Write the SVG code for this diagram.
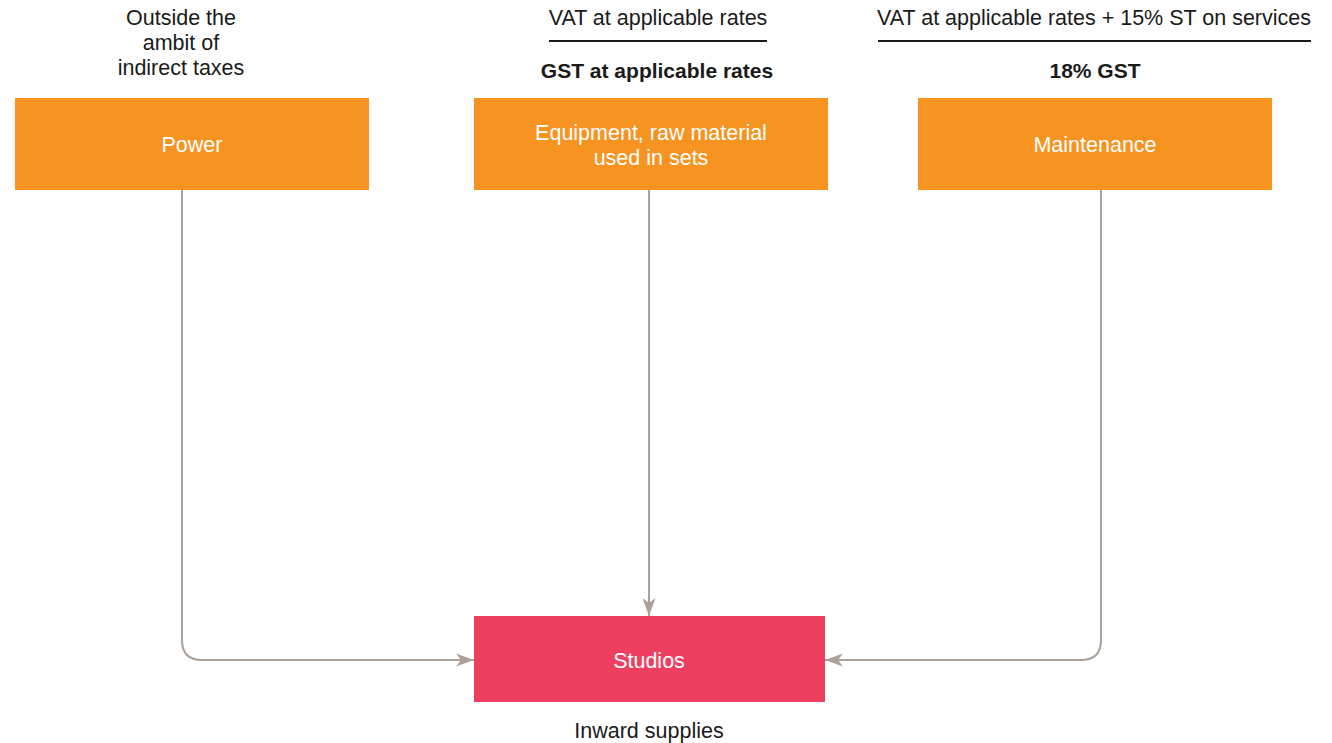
<svg xmlns="http://www.w3.org/2000/svg" width="1332" height="743" viewBox="0 0 1332 743">
<style>
text{font-family:"Liberation Sans",Arial,sans-serif;font-size:21.5px;text-anchor:middle}
.lbl{fill:#1a1a1a}
.b{font-weight:bold;font-size:21px}
.w{fill:#ffffff}
.src{fill:#F79321}
.dst{fill:#EF3F61}
.conn{fill:none;stroke:#ABA198;stroke-width:2}
.rule{stroke:#1a1a1a;stroke-width:2}
</style>
<defs>
<marker id="arr" viewBox="0 0 18 13" refX="18" refY="6.5" markerWidth="18" markerHeight="13" markerUnits="userSpaceOnUse" orient="auto">
<path d="M0,0 L18,6.5 L0,13 L5,6.5 Z" fill="#ABA198"/>
</marker>
</defs>
<g id="labels">
<text class="lbl" x="181" y="25">Outside the</text>
<text class="lbl" x="181" y="50">ambit of</text>
<text class="lbl" x="181" y="75">indirect taxes</text>
<text class="lbl" x="658" y="25">VAT at applicable rates</text>
<line class="rule" x1="549" y1="41" x2="767" y2="41"/>
<text class="lbl b" x="657" y="78">GST at applicable rates</text>
<text class="lbl" x="1094" y="25">VAT at applicable rates + 15% ST on services</text>
<line class="rule" x1="878" y1="41" x2="1311" y2="41"/>
<text class="lbl b" x="1095" y="78">18% GST</text>
<text class="lbl" x="649" y="738">Inward supplies</text>
</g>
<g id="connectors">
<path class="conn" d="M182,190 V640 Q182,660 202,660 H474" marker-end="url(#arr)"/>
<path class="conn" d="M649,190 V616" marker-end="url(#arr)"/>
<path class="conn" d="M1101,190 V640 Q1101,660 1081,660 H825" marker-end="url(#arr)"/>
</g>
<g id="power">
<rect class="src" x="15" y="98" width="354" height="92"/>
<text class="w" x="192" y="152">Power</text>
</g>
<g id="equipment">
<rect class="src" x="474" y="98" width="354" height="92"/>
<text class="w" x="651" y="140">Equipment, raw material</text>
<text class="w" x="651" y="165">used in sets</text>
</g>
<g id="maintenance">
<rect class="src" x="918" y="98" width="354" height="92"/>
<text class="w" x="1095" y="152">Maintenance</text>
</g>
<g id="studios">
<rect class="dst" x="474" y="616" width="351" height="86"/>
<text class="w" x="649" y="668">Studios</text>
</g>
</svg>
